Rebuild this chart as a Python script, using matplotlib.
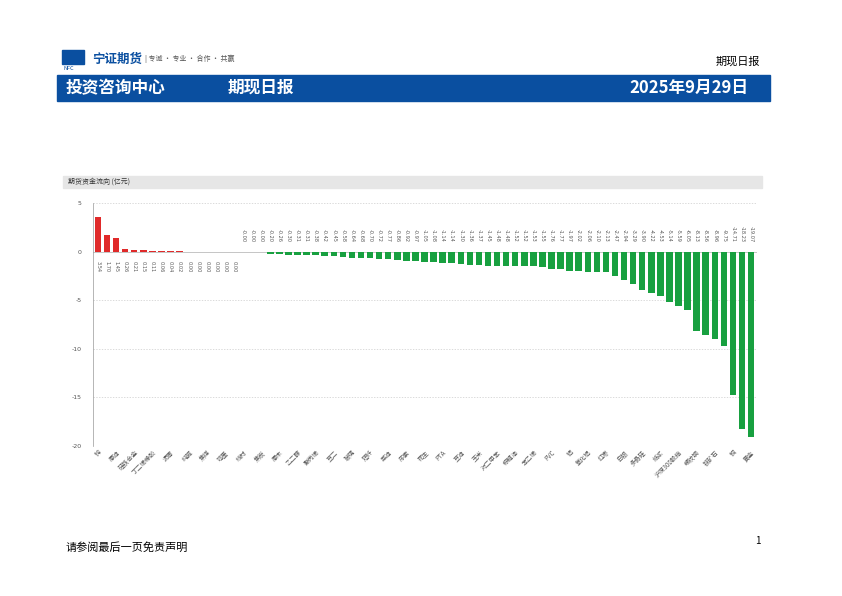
import matplotlib
matplotlib.use("Agg")
import matplotlib.pyplot as plt
from matplotlib.patches import Rectangle

plt.rcParams['font.family'] = ['Noto Sans CJK SC', 'DejaVu Sans']
plt.rcParams['axes.unicode_minus'] = False

values = [3.54, 1.70, 1.45, 0.26, 0.21, 0.15, 0.11, 0.06, 0.04, 0.02,
          0.00, 0.00, 0.00, 0.00, 0.00, 0.00,
          -0.00, -0.00, -0.00, -0.20, -0.26, -0.30, -0.31, -0.31, -0.38, -0.42, -0.45, -0.58, -0.64, -0.68,
          -0.70, -0.72, -0.77, -0.86, -0.92, -0.97, -1.05, -1.08, -1.14, -1.14,
          -1.30, -1.36, -1.37, -1.45, -1.48, -1.48, -1.52, -1.52, -1.53, -1.55,
          -1.76, -1.77, -1.97, -2.02, -2.06, -2.10, -2.13, -2.47, -2.94, -3.29,
          -3.90, -4.22, -4.53, -5.14, -5.59, -6.05, -8.13, -8.56, -8.96, -9.75,
          -14.71, -18.23, -19.07]
tick_labels = ["锌", "原油", "硅铁合金", "丁二烯橡胶", "沥青", "纯碱", "焦煤", "鸡蛋", "线材", "焦炭",
               "原木", "乙二醇", "聚丙烯", "豆二", "玻璃", "短纤", "菜油", "尿素", "花生", "PTA",
               "豆油", "玉米", "对二甲苯", "棕榈油", "苯乙烯", "PVC", "铝", "氧化铝", "红枣", "白银",
               "多晶硅", "纸浆", "沪深300股指", "螺纹钢", "铁矿石", "铜", "黄金"]
yticks = [5, 0, -5, -10, -15, -20]

W, H = 842, 596
fig = plt.figure(figsize=(W/100, H/100), dpi=100)

def fx(x): return x / W
def fy(y): return 1 - y / H

# header
fig.patches.append(Rectangle((fx(57), fy(101)), fx(770-57), (101-75)/H, transform=fig.transFigure, color='#0a4fa0'))
fig.text(fx(66), fy(88), "投资咨询中心", color='white', fontsize=12, fontweight='bold', va='center')
fig.text(fx(228), fy(88), "期现日报", color='white', fontsize=12, fontweight='bold', va='center')
fig.text(fx(748), fy(88), "2025年9月29日", color='white', fontsize=12, fontweight='bold', va='center', ha='right')
fig.text(fx(760), fy(62), "期现日报", fontsize=8, ha='right', va='center')
fig.text(fx(92), fy(59), "宁证期货", fontsize=9, color='#0a4fa0', fontweight='bold', va='center')
fig.text(fx(145), fy(59), "| 专诚 · 专业 · 合作 · 共赢", fontsize=5, color='#555555', va='center')
fig.patches.append(Rectangle((fx(62), fy(64)), 22/W, 14/H, transform=fig.transFigure, color='#0a4fa0'))
fig.text(fx(63), fy(69), "NFC", fontsize=4, color='#0a4fa0', va='center')

# chart title band
fig.patches.append(Rectangle((fx(63), fy(188)), fx(762-63), 12/H, transform=fig.transFigure, color='#e6e6e6'))
fig.text(fx(68), fy(182), "期货资金流向 (亿元)", fontsize=5, va='center', color='#333333')

# footer
fig.text(fx(66), fy(548), "请参阅最后一页免责声明", fontsize=8, va='center')
fig.text(fx(755), fy(541), "1", fontsize=7, va='center')

n = len(values)
left, right = 92.5, 756.5
ax = fig.add_axes([fx(left), fy(446), (right-left)/W, (446-203)/H])
colors = ['#e02a2a' if v > 0 else '#18a040' for v in values]
x = list(range(n))
ax.bar(x, values, width=0.72, color=colors)
ax.set_xlim(-0.6, n - 0.4)
ax.set_ylim(-20, 5)
ax.set_yticks(yticks)
ax.set_yticklabels([str(t) for t in yticks], fontsize=4.5, color='#555555', family='DejaVu Sans')
for t in yticks:
    if t != 0:
        ax.axhline(t, color='#cccccc', lw=0.5, ls=(0, (2, 2)), zorder=0)
ax.axhline(0, color='#bbbbbb', lw=0.6, zorder=0)
for s in ['top', 'right', 'bottom']:
    ax.spines[s].set_visible(False)
ax.spines['left'].set_color('#999999')
ax.spines['left'].set_linewidth(0.5)
ax.tick_params(axis='y', length=0, pad=8)
ax.set_xticks(x[::2])
ax.set_xticklabels(tick_labels, rotation=45, ha='right', rotation_mode='anchor', fontsize=4.5, color='#555555')
ax.tick_params(axis='x', length=0, pad=2)

for i, v in enumerate(values):
    if i < 16:
        ax.text(i, -1.0, f"{v:.2f}", rotation=-90, ha='center', va='top', fontsize=3.6,
                color='#555555', family='DejaVu Sans')
    else:
        ax.text(i, 1.0, "-" + f"{abs(v):.2f}", rotation=-90, ha='center', va='bottom', fontsize=3.6,
                color='#555555', family='DejaVu Sans')

fig.savefig("out.png", dpi=100)
